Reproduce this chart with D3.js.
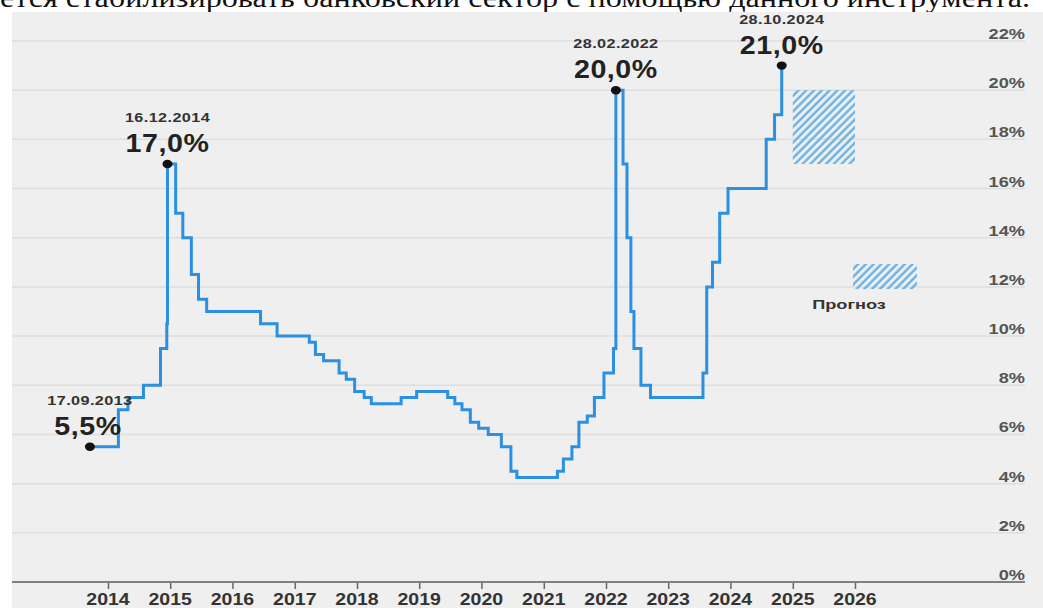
<!DOCTYPE html>
<html lang="ru">
<head>
<meta charset="utf-8">
<script src="https://cdn.jsdelivr.net/npm/d3@7"></script>
<style>
  html, body { margin: 0; padding: 0; background: #ffffff; }
  svg { display: block; }
  .sans { font-family: "Liberation Sans", Arial, sans-serif; font-weight: bold; }
</style>
</head>
<body>
<svg id="chart" width="1043" height="608"></svg>
<script>
// Key rate history: date of each decision and the rate set on it (%)
const rateDates = [
  "2013-09-17","2014-03-03","2014-04-28","2014-07-28","2014-11-05","2014-12-12","2014-12-16",
  "2015-02-02","2015-03-16","2015-05-05","2015-06-16","2015-08-03","2016-06-14","2016-09-19",
  "2017-03-27","2017-05-02","2017-06-19","2017-09-18","2017-10-30","2017-12-18","2018-02-12",
  "2018-03-26","2018-09-17","2018-12-17","2019-06-17","2019-07-29","2019-09-09","2019-10-28",
  "2019-12-16","2020-02-10","2020-04-27","2020-06-22","2020-07-27","2021-03-22","2021-04-26",
  "2021-06-15","2021-07-26","2021-09-13","2021-10-25","2021-12-20","2022-02-14","2022-02-28",
  "2022-04-11","2022-05-04","2022-05-27","2022-06-14","2022-07-25","2022-09-19","2023-07-24",
  "2023-08-15","2023-09-18","2023-10-30","2023-12-18","2024-07-29","2024-09-16","2024-10-28"
];
const rateValues = [
  5.5, 7.0, 7.5, 8.0, 9.5, 10.5, 17.0,
  15.0, 14.0, 12.5, 11.5, 11.0, 10.5, 10.0,
  9.75, 9.25, 9.0, 8.5, 8.25, 7.75, 7.5,
  7.25, 7.5, 7.75, 7.5, 7.25, 7.0, 6.5,
  6.25, 6.0, 5.5, 4.5, 4.25, 4.5, 5.0,
  5.5, 6.5, 6.75, 7.5, 8.5, 9.5, 20.0,
  17.0, 14.0, 11.0, 9.5, 8.0, 7.5, 8.5,
  12.0, 13.0, 15.0, 16.0, 18.0, 19.0, 21.0
];

// Highlighted decisions
const markDates  = ["2013-09-17", "2014-12-16", "2022-02-28", "2024-10-28"];
const markValues = [5.5, 17.0, 20.0, 21.0];
const markDateLabels  = ["17.09.2013", "16.12.2014", "28.02.2022", "28.10.2024"];
const markValueLabels = ["5,5%", "17,0%", "20,0%", "21,0%"];

// Forecast range for 2025
const forecastPeriod = ["2025-01-01", "2026-01-01"];
const forecastRange  = [17, 20];
const legendLabel = "Прогноз";

// Axis ticks
const yearTicks = [2014, 2015, 2016, 2017, 2018, 2019, 2020, 2021, 2022, 2023, 2024, 2025, 2026];
const percentTicks = [0, 2, 4, 6, 8, 10, 12, 14, 16, 18, 20, 22];

const headline = "ется стабилизировать банковский сектор с помощью данного инструмента.";

const parse = d3.timeParse("%Y-%m-%d");
const svg = d3.select("#chart");

const x = d3.scaleTime()
  .domain([new Date(2014, 0, 1), new Date(2026, 0, 1)])
  .range([108, 855]);
const y = d3.scaleLinear().domain([0, 22]).range([582, 41]);

// Text with a horizontal stretch
function wideText(parent, px, py, str, opts) {
  const g = parent.append("g")
    .attr("transform", `translate(${px},${py}) scale(${opts.sx || 1},1)`);
  return g.append("text")
    .attr("class", "sans")
    .attr("text-anchor", opts.anchor || "middle")
    .attr("font-size", opts.size)
    .attr("letter-spacing", opts.ls || 0)
    .attr("fill", opts.fill || "#333")
    .text(str);
}

// Headline strip
svg.append("text")
  .attr("x", 0).attr("y", 7)
  .attr("font-family", "'Liberation Serif', 'Times New Roman', serif")
  .attr("font-size", 27)
  .attr("textLength", 1030)
  .attr("lengthAdjust", "spacingAndGlyphs")
  .attr("fill", "#111")
  .text(headline);

// Plot background
svg.append("rect")
  .attr("x", 12).attr("y", 12)
  .attr("width", 1031).attr("height", 596)
  .attr("fill", "#efefef");

// Hatch pattern for the forecast
const defs = svg.append("defs");
const pat = defs.append("pattern")
  .attr("id", "hatch")
  .attr("patternUnits", "userSpaceOnUse")
  .attr("width", 5.5).attr("height", 5.5)
  .attr("patternTransform", "rotate(45)");
pat.append("line")
  .attr("x1", 1.5).attr("y1", 0).attr("x2", 1.5).attr("y2", 5.5)
  .attr("stroke", "#5eaee8").attr("stroke-width", 2.2);

// Horizontal grid + right-hand percent labels
const grid = svg.append("g");
percentTicks.filter(d => d > 0).forEach(d => {
  grid.append("line")
    .attr("x1", 12).attr("x2", 1025)
    .attr("y1", y(d)).attr("y2", y(d))
    .attr("stroke", "#dedede").attr("stroke-width", 1.5);
});
percentTicks.forEach(d => {
  wideText(svg, 1025, y(d) - 2, d + "%", { size: 14, sx: 1.3, anchor: "end", fill: "#555" });
});

// Bottom axis
const xAxis = d3.axisBottom(x)
  .tickValues(yearTicks.map(t => new Date(t, 0, 1)))
  .tickSize(7)
  .tickFormat("");
const axisG = svg.append("g").attr("transform", `translate(0,${y(0)})`).call(xAxis);
axisG.select(".domain").remove();
axisG.selectAll(".tick line").attr("stroke", "#666").attr("stroke-width", 1.5);
svg.append("line")
  .attr("x1", 12).attr("x2", 1025)
  .attr("y1", y(0)).attr("y2", y(0))
  .attr("stroke", "#808080").attr("stroke-width", 2.2);
yearTicks.forEach(t => {
  wideText(svg, x(new Date(t, 0, 1)), 605, String(t), { size: 16, sx: 1.22, fill: "#333" });
});

// Forecast block
svg.append("rect")
  .attr("x", x(parse(forecastPeriod[0])))
  .attr("y", y(forecastRange[1]))
  .attr("width", x(parse(forecastPeriod[1])) - x(parse(forecastPeriod[0])))
  .attr("height", y(forecastRange[0]) - y(forecastRange[1]))
  .attr("fill", "url(#hatch)");

// Legend
svg.append("rect")
  .attr("x", 853).attr("y", 264).attr("width", 64).attr("height", 25)
  .attr("rx", 4)
  .attr("fill", "url(#hatch)");
wideText(svg, 849, 309, legendLabel, { size: 13, sx: 1.4, fill: "#333" });

// Key rate step line
const series = rateDates.map((d, i) => ({ date: parse(d), value: rateValues[i] }));
const line = d3.line()
  .x(d => x(d.date))
  .y(d => y(d.value))
  .curve(d3.curveStepAfter);
svg.append("path")
  .datum(series)
  .attr("d", line)
  .attr("fill", "none")
  .attr("stroke", "#2b8fe2")
  .attr("stroke-width", 3)
  .attr("stroke-linejoin", "miter");

// Highlighted points with captions
markDates.forEach((d, i) => {
  const cx = x(parse(d));
  const cy = y(markValues[i]);
  svg.append("ellipse")
    .attr("cx", cx).attr("cy", cy)
    .attr("rx", 5).attr("ry", 4.2)
    .attr("fill", "#111");
  wideText(svg, cx, cy - 42, markDateLabels[i], { size: 12.5, sx: 1.3, ls: 0.3, fill: "#333" });
  wideText(svg, cx - (i === 0 ? 2 : 0), cy - 12, markValueLabels[i], { size: 26, sx: 1.1, ls: 0.5, fill: "#222" });
});
</script>
</body>
</html>
